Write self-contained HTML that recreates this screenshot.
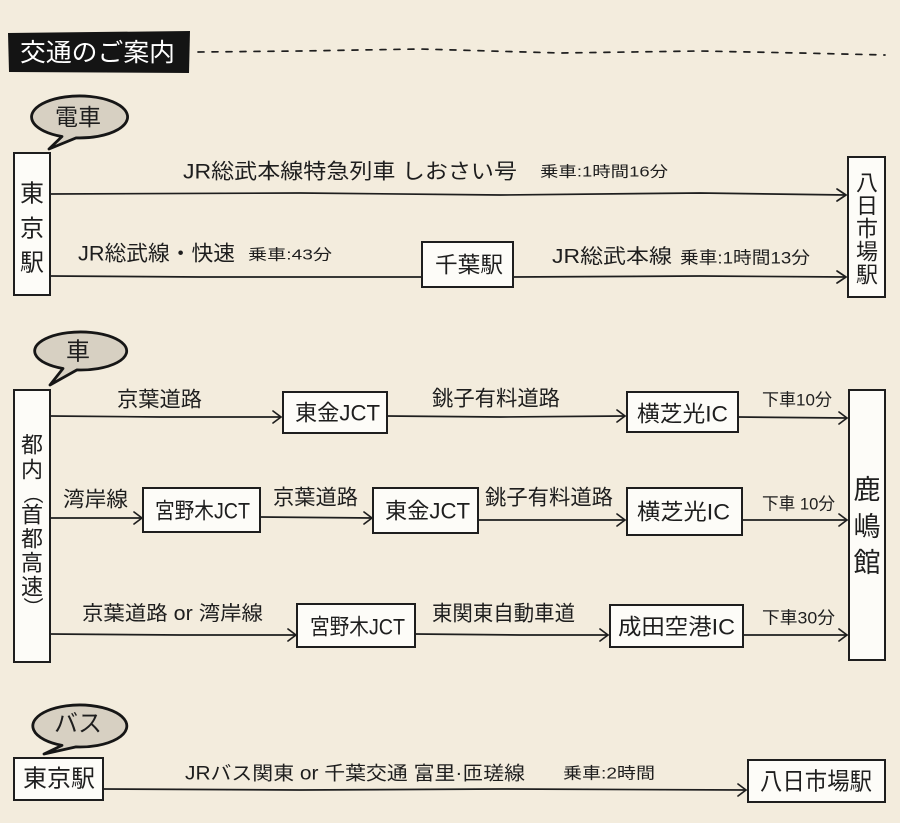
<!DOCTYPE html>
<html><head><meta charset="utf-8"><style>
html,body{margin:0;padding:0;background:#f3ecdd;}
svg{display:block}
text{font-family:"Liberation Sans","Noto Sans CJK JP",sans-serif;fill:#1e1e1e;font-weight:normal;}
.t{dominant-baseline:central}
.v{dominant-baseline:central;text-anchor:middle}
.bx{fill:#fdfcf8;stroke:#1e1e1e;stroke-width:2}
.ln{fill:none;stroke:#1e1e1e;stroke-width:1.7;stroke-linecap:round;stroke-linejoin:round}
.bb{fill:#d7d0c2;stroke:#161616;stroke-width:2.8;stroke-linejoin:round}
</style></head><body>
<svg width="900" height="823" viewBox="0 0 900 823">
<rect width="900" height="823" fill="#f3ecdd"/>

<!-- header -->
<path d="M8 33 L190 31 L189 73 L9 72 Z" fill="#141414"/>
<text class="t" x="20" y="53" font-size="25" textLength="155" lengthAdjust="spacingAndGlyphs" style="fill:#fff">交通のご案内</text>
<path d="M198 52 L300 51 L420 49 L560 53 L700 51 L800 53 L885 55" class="ln" stroke-width="2" stroke-dasharray="6 8"/>

<!-- 電車 bubble -->
<path class="bb" d="M76 137.9 A48 21 0 1 0 62 136.5 L49 149 Z"/>
<text class="v" x="78" y="117" font-size="23">電車</text>

<!-- train section -->
<rect class="bx" x="14" y="153" width="36" height="142"/>
<text class="v" x="32" y="194" font-size="24">東</text>
<text class="v" x="32" y="229" font-size="24">京</text>
<text class="v" x="32" y="263" font-size="24">駅</text>

<rect class="bx" x="848" y="157" width="37" height="140"/>
<text class="v" x="867" y="183" font-size="22">八</text>
<text class="v" x="867" y="206" font-size="22">日</text>
<text class="v" x="867" y="229" font-size="22">市</text>
<text class="v" x="867" y="252" font-size="22">場</text>
<text class="v" x="867" y="275" font-size="22">駅</text>

<path class="ln" d="M50 194 L300 193 L500 195 L700 193 L846 195"/>
<path class="ln" d="M837 189 L846 195 L837 201"/>
<text class="t" x="183" y="172" font-size="21" textLength="334" lengthAdjust="spacingAndGlyphs">JR総武本線特急列車 しおさい号</text>
<text class="t" x="540" y="172" font-size="15" textLength="128" lengthAdjust="spacingAndGlyphs">乗車:1時間16分</text>

<path class="ln" d="M50 276 L200 277 L422 277"/>
<rect class="bx" x="422" y="242" width="91" height="45"/>
<text class="t" x="435" y="265" font-size="22" textLength="68" lengthAdjust="spacingAndGlyphs">千葉駅</text>
<path class="ln" d="M513 277 L700 276 L846 277"/>
<path class="ln" d="M837 271 L846 277 L837 283"/>
<text class="t" x="78" y="254" font-size="21" textLength="157" lengthAdjust="spacingAndGlyphs">JR総武線・快速</text>
<text class="t" x="248" y="255" font-size="15" textLength="84" lengthAdjust="spacingAndGlyphs">乗車:43分</text>
<text class="t" x="552" y="257" font-size="20" textLength="120" lengthAdjust="spacingAndGlyphs">JR総武本線</text>
<text class="t" x="680" y="258" font-size="17" textLength="130" lengthAdjust="spacingAndGlyphs">乗車:1時間13分</text>

<!-- 車 bubble -->
<path class="bb" d="M77 369.9 A46 19 0 1 0 63 368.5 L50 385 Z"/>
<text class="v" x="78" y="352" font-size="24">車</text>

<!-- car section -->
<rect class="bx" x="14" y="390" width="36" height="272"/>
<text class="v" x="32" y="445" font-size="22">都</text>
<text class="v" x="32" y="470" font-size="22">内</text>
<text class="v" x="0" y="0" font-size="20" transform="translate(32 494) rotate(90)">（</text>
<text class="v" x="32" y="515" font-size="22">首</text>
<text class="v" x="32" y="539" font-size="22">都</text>
<text class="v" x="32" y="563" font-size="22">高</text>
<text class="v" x="32" y="587" font-size="22">速</text>
<text class="v" x="0" y="0" font-size="20" transform="translate(32 607) rotate(90)">）</text>

<rect class="bx" x="849" y="390" width="36" height="270"/>
<text class="v" x="867" y="490" font-size="27">鹿</text>
<text class="v" x="867" y="527" font-size="27">嶋</text>
<text class="v" x="867" y="563" font-size="27">館</text>

<!-- row 1 -->
<path class="ln" d="M50 416 L160 417 L281 417"/>
<path class="ln" d="M273 411 L281 417 L273 423"/>
<text class="t" x="117" y="400" font-size="21" textLength="85" lengthAdjust="spacingAndGlyphs">京葉道路</text>
<rect class="bx" x="283" y="392" width="104" height="41"/>
<text class="t" x="295" y="413" font-size="22" textLength="85" lengthAdjust="spacingAndGlyphs">東金JCT</text>
<path class="ln" d="M387 416 L500 417 L625 416"/>
<path class="ln" d="M617 410 L625 416 L617 422"/>
<text class="t" x="432" y="399" font-size="21" textLength="128" lengthAdjust="spacingAndGlyphs">銚子有料道路</text>
<rect class="bx" x="627" y="392" width="111" height="40"/>
<text class="t" x="637" y="414" font-size="22" textLength="91" lengthAdjust="spacingAndGlyphs">横芝光IC</text>
<path class="ln" d="M738 417 L847 418"/>
<path class="ln" d="M839 412 L847 418 L839 424"/>
<text class="t" x="762" y="400" font-size="17" textLength="70" lengthAdjust="spacingAndGlyphs">下車10分</text>

<!-- row 2 -->
<path class="ln" d="M50 518 L142 518"/>
<path class="ln" d="M134 512 L142 518 L134 524"/>
<text class="t" x="63" y="500" font-size="21" textLength="65" lengthAdjust="spacingAndGlyphs">湾岸線</text>
<rect class="bx" x="143" y="488" width="117" height="44"/>
<text class="t" x="155" y="511" font-size="22" textLength="95" lengthAdjust="spacingAndGlyphs">宮野木JCT</text>
<path class="ln" d="M260 517 L372 518"/>
<path class="ln" d="M364 512 L372 518 L364 524"/>
<text class="t" x="273" y="498" font-size="21" textLength="85" lengthAdjust="spacingAndGlyphs">京葉道路</text>
<rect class="bx" x="373" y="488" width="105" height="45"/>
<text class="t" x="385" y="511" font-size="22" textLength="85" lengthAdjust="spacingAndGlyphs">東金JCT</text>
<path class="ln" d="M478 520 L625 520"/>
<path class="ln" d="M617 514 L625 520 L617 526"/>
<text class="t" x="485" y="498" font-size="21" textLength="128" lengthAdjust="spacingAndGlyphs">銚子有料道路</text>
<rect class="bx" x="627" y="488" width="115" height="47"/>
<text class="t" x="637" y="512" font-size="22" textLength="93" lengthAdjust="spacingAndGlyphs">横芝光IC</text>
<path class="ln" d="M742 520 L847 520"/>
<path class="ln" d="M839 514 L847 520 L839 526"/>
<text class="t" x="762" y="504" font-size="17" textLength="73" lengthAdjust="spacingAndGlyphs">下車 10分</text>

<!-- row 3 -->
<path class="ln" d="M50 634 L180 635 L296 635"/>
<path class="ln" d="M288 629 L296 635 L288 641"/>
<text class="t" x="82" y="614" font-size="20" textLength="181" lengthAdjust="spacingAndGlyphs">京葉道路 or 湾岸線</text>
<rect class="bx" x="297" y="604" width="118" height="43"/>
<text class="t" x="310" y="627" font-size="22" textLength="95" lengthAdjust="spacingAndGlyphs">宮野木JCT</text>
<path class="ln" d="M415 634 L520 635 L608 635"/>
<path class="ln" d="M600 629 L608 635 L600 641"/>
<text class="t" x="432" y="614" font-size="21" textLength="143" lengthAdjust="spacingAndGlyphs">東関東自動車道</text>
<rect class="bx" x="610" y="605" width="133" height="42"/>
<text class="t" x="618" y="627" font-size="22" textLength="117" lengthAdjust="spacingAndGlyphs">成田空港IC</text>
<path class="ln" d="M743 635 L847 635"/>
<path class="ln" d="M839 629 L847 635 L839 641"/>
<text class="t" x="762" y="618" font-size="17" textLength="73" lengthAdjust="spacingAndGlyphs">下車30分</text>

<!-- バス bubble -->
<path class="bb" d="M76 746.9 A47 21 0 1 0 62 745.4 L44 754 Z"/>
<text class="v" x="78" y="724" font-size="24">バス</text>

<!-- bus section -->
<rect class="bx" x="14" y="758" width="89" height="42"/>
<text class="t" x="23" y="779" font-size="24" textLength="72" lengthAdjust="spacingAndGlyphs">東京駅</text>
<path class="ln" d="M103 789 L300 790 L500 789 L746 790"/>
<path class="ln" d="M738 784 L746 790 L738 796"/>
<text class="t" x="185" y="774" font-size="19" textLength="340" lengthAdjust="spacingAndGlyphs">JRバス関東 or 千葉交通 富里·匝瑳線</text>
<text class="t" x="563" y="774" font-size="16" textLength="92" lengthAdjust="spacingAndGlyphs">乗車:2時間</text>
<rect class="bx" x="748" y="760" width="137" height="42"/>
<text class="t" x="760" y="782" font-size="24" textLength="112" lengthAdjust="spacingAndGlyphs">八日市場駅</text>
</svg>
</body></html>
